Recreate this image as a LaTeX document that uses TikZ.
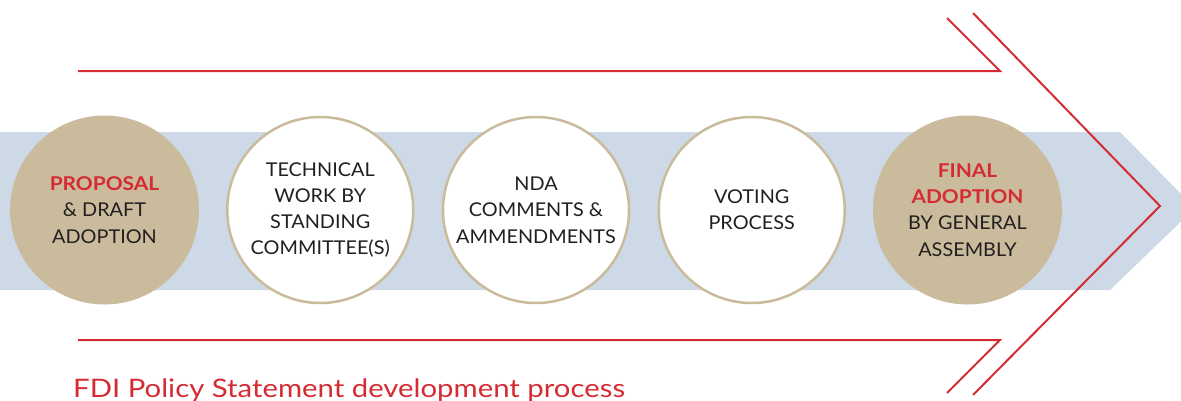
\documentclass[tikz,border=0pt]{standalone}
\usepackage{fontspec}
\setmainfont{Lato}[FakeStretch=1.045, BoldFeatures={FakeStretch=1.1}]
\newfontfamily\titlefont{Lato}[FakeStretch=1.15]
\usetikzlibrary{positioning}

\definecolor{fdired}{HTML}{D52B33}
\definecolor{fditan}{HTML}{C9BB9B}
\definecolor{fdiblue}{HTML}{CDD9E6}
\definecolor{fditext}{HTML}{231F20}

\begin{document}
\begin{tikzpicture} [x=1pt, y=-1pt, node distance = 215.75pt, on grid,
        stage/.style = {circle, inner sep=0pt, align=center, text=fditext,
                        font=\fontsize{19}{26.3}\selectfont},
        keystage/.style = {stage, fill=fditan, minimum size=189pt},
        openstage/.style = {stage, fill=white, draw=fditan, line width=2.5pt, minimum size=186pt},
        redline/.style = {draw=fdired, line width=2pt}]
        \useasboundingbox (0,0) rectangle (1181,400);
        \clip (0,0) rectangle (1181,400);

        % the broad band behind the stages
        \fill [fdiblue] (0,132) -- (1120,132) -- (1195,208) -- (1110,290) -- (0,290) -- cycle;

        \node (s1) [keystage] at (104.5,210) {\textcolor{fdired}{\bfseries PROPOSAL}\\ \& DRAFT\\ ADOPTION};
        \node (s2) [openstage, right = of s1] {TECHNICAL\\ WORK BY\\ STANDING\\ COMMITTEE(S)};
        \node (s3) [openstage, right = of s2] {NDA\\ COMMENTS \&\\ AMMENDMENTS};
        \node (s4) [openstage, right = of s3] {VOTING\\ PROCESS};
        \node (s5) [keystage, right = of s4] {\textcolor{fdired}{\bfseries FINAL}\\ \textcolor{fdired}{\bfseries ADOPTION}\\ BY GENERAL\\ ASSEMBLY};

        % red arrows
        \draw [redline] (78,71) -- (1000,71) -- (947,18);
        \draw [redline] (78,340) -- (1000,340) -- (947,393);
        \draw [redline] (973,13) -- (1160,206) -- (973,395);

        \node (title) [anchor=base west, inner sep=0pt, text=fdired,
                font=\titlefont\fontsize{25.5}{30}\selectfont] at (73,397) {FDI Policy Statement development process};

    \end{tikzpicture}
\end{document}
